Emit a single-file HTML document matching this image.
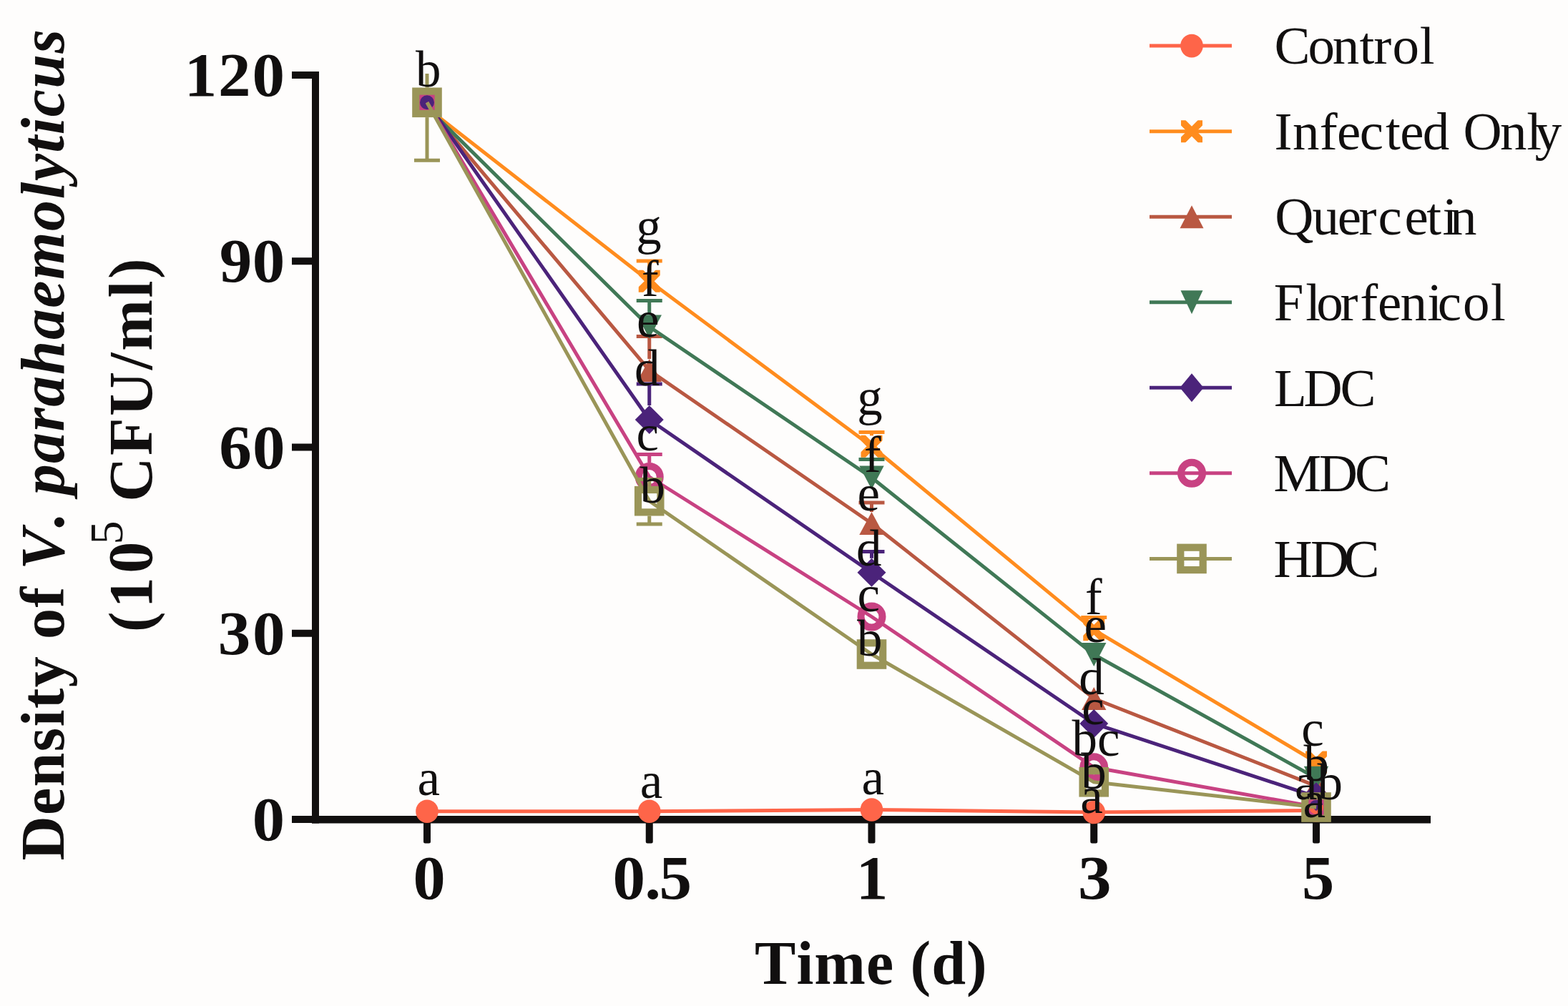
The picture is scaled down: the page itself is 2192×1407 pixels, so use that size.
<!DOCTYPE html>
<html><head><meta charset="utf-8"><title>Density of V. parahaemolyticus over time</title>
<style>
html,body{margin:0;padding:0;background:#fefdfc;overflow:hidden;}
svg{display:block;}
text{font-family:"Liberation Serif","Times New Roman",serif;fill:#110f0f;font-kerning:none;}
</style></head><body>
<svg width="2192" height="1407" viewBox="0 0 2192 1407">
<rect width="2192" height="1407" fill="#fefdfc"/>

<g transform="translate(89,1203.5) rotate(-90)"><text x="0" y="0" font-size="86" font-weight="bold" textLength="1162.5" lengthAdjust="spacing">Density of <tspan font-style="italic">V. parahaemolyticus</tspan></text></g>
<g transform="translate(212,884) rotate(-90)"><text x="0" y="0" font-size="86" font-weight="bold" letter-spacing="2.6">(<tspan dx="2.5">1</tspan><tspan dx="3" font-size="88">0</tspan><tspan font-size="66" font-weight="normal" dx="-6.5" dy="-41.5">5</tspan><tspan dy="41.5"> CFU/ml)</tspan></text></g>
<g fill="#110f0f">
<rect x="436" y="100" width="10" height="1051.5"/>
<rect x="408" y="1141.00" width="33" height="10"/>
<rect x="408" y="880.75" width="33" height="10"/>
<rect x="408" y="620.50" width="33" height="10"/>
<rect x="408" y="360.25" width="33" height="10"/>
<rect x="408" y="100.00" width="33" height="10"/>
<rect x="436" y="1141" width="1564" height="10.5"/>
<rect x="592.00" y="1146" width="10" height="33.5" rx="2.5"/>
<rect x="902.75" y="1146" width="10" height="33.5" rx="2.5"/>
<rect x="1213.50" y="1146" width="10" height="33.5" rx="2.5"/>
<rect x="1524.25" y="1146" width="10" height="33.5" rx="2.5"/>
<rect x="1835.00" y="1146" width="10" height="33.5" rx="2.5"/>
</g>
<text transform="scale(1.06,1)" x="243.2 287.8 332.5" y="134.20" font-size="86" font-weight="bold">120</text>
<text transform="scale(1.06,1)" x="289.4 332.7" y="394.20" font-size="86" font-weight="bold">90</text>
<text transform="scale(1.06,1)" x="288.9 333.0" y="655.00" font-size="86" font-weight="bold">60</text>
<text transform="scale(1.06,1)" x="287.4 333.0" y="915.00" font-size="86" font-weight="bold">30</text>
<text transform="translate(375.40,0) scale(1.0535,1) translate(-375.40,0)" x="353.90" y="1175.00" font-size="86" font-weight="bold">0</text>
<text transform="translate(600.15,0) scale(1.0508,1) translate(-600.15,0)" x="578.65" y="1256.60" font-size="86" font-weight="bold">0</text>
<text transform="translate(1220.45,0) scale(1.0391,1) translate(-1220.45,0)" x="1197.73" y="1256.60" font-size="86" font-weight="bold">1</text>
<text transform="translate(1530.55,0) scale(1.0834,1) translate(-1530.55,0)" x="1508.90" y="1256.60" font-size="86" font-weight="bold">3</text>
<text transform="translate(1842.75,0) scale(1.0520,1) translate(-1842.75,0)" x="1821.10" y="1256.60" font-size="86" font-weight="bold">5</text>
<text transform="scale(1.06,1)" x="808.0 850.2 869.3" y="1256.60" font-size="86" font-weight="bold">0.5</text>
<text x="1055.06" y="1375.60" font-size="86" font-weight="bold" textLength="324.62" lengthAdjust="spacing">Time (d)</text>
<polyline points="597.00,1134.80 907.75,1134.80 1218.50,1132.50 1529.25,1136.00 1840.00,1133.50" fill="none" stroke="#fe6549" stroke-width="5.0" stroke-linejoin="round"/>
<ellipse cx="597.00" cy="1134.80" rx="15.8" ry="16.3" fill="#fe6549"/>
<ellipse cx="907.75" cy="1134.80" rx="15.8" ry="16.3" fill="#fe6549"/>
<ellipse cx="1218.50" cy="1132.50" rx="15.8" ry="16.3" fill="#fe6549"/>
<ellipse cx="1529.25" cy="1136.00" rx="15.8" ry="16.3" fill="#fe6549"/>
<ellipse cx="1840.00" cy="1133.50" rx="15.8" ry="16.3" fill="#fe6549"/>
<polyline points="597.00,151.00 907.75,393.30 1218.50,624.30 1529.25,880.80 1840.00,1066.00" fill="none" stroke="#ff8c1e" stroke-width="5.0" stroke-linejoin="round"/>
<path d="M907.75,365.00L907.75,378.30" stroke="#ff8c1e" stroke-width="5.0"/>
<path d="M889.75,365.00L925.75,365.00" stroke="#ff8c1e" stroke-width="5.0"/>
<path d="M1218.50,604.40L1218.50,609.30" stroke="#ff8c1e" stroke-width="5.0"/>
<path d="M1200.50,604.40L1236.50,604.40" stroke="#ff8c1e" stroke-width="5.0"/>
<path d="M1529.25,863.40L1529.25,865.80" stroke="#ff8c1e" stroke-width="5.0"/>
<path d="M1511.25,863.40L1547.25,863.40" stroke="#ff8c1e" stroke-width="5.0"/>
<svg x="582.00" y="127.80" width="30" height="31" overflow="hidden"><path d="M0,0.5L30,30.5M30,0.5L0,30.5" stroke="#ff8c1e" stroke-width="9.8" stroke-linecap="square" fill="none"/></svg>
<svg x="892.75" y="377.80" width="30" height="31" overflow="hidden"><path d="M0,0.5L30,30.5M30,0.5L0,30.5" stroke="#ff8c1e" stroke-width="9.8" stroke-linecap="square" fill="none"/></svg>
<svg x="1203.50" y="608.80" width="30" height="31" overflow="hidden"><path d="M0,0.5L30,30.5M30,0.5L0,30.5" stroke="#ff8c1e" stroke-width="9.8" stroke-linecap="square" fill="none"/></svg>
<svg x="1514.25" y="865.30" width="30" height="31" overflow="hidden"><path d="M0,0.5L30,30.5M30,0.5L0,30.5" stroke="#ff8c1e" stroke-width="9.8" stroke-linecap="square" fill="none"/></svg>
<svg x="1825.00" y="1050.50" width="30" height="31" overflow="hidden"><path d="M0,0.5L30,30.5M30,0.5L0,30.5" stroke="#ff8c1e" stroke-width="9.8" stroke-linecap="square" fill="none"/></svg>
<polyline points="597.00,149.00 907.75,518.00 1218.50,732.00 1529.25,977.00 1840.00,1099.30" fill="none" stroke="#b95842" stroke-width="5.0" stroke-linejoin="round"/>
<path d="M907.75,470.60L907.75,502.00" stroke="#b95842" stroke-width="5.0"/>
<path d="M889.75,470.60L925.75,470.60" stroke="#b95842" stroke-width="5.0"/>
<path d="M1218.50,703.00L1218.50,716.00" stroke="#b95842" stroke-width="5.0"/>
<path d="M1200.50,703.00L1236.50,703.00" stroke="#b95842" stroke-width="5.0"/>
<path d="M597.00,127.30L614.20,159.30L579.80,159.30Z" fill="#b95842"/>
<path d="M907.75,502.00L924.95,534.00L890.55,534.00Z" fill="#b95842"/>
<path d="M1218.50,716.00L1235.70,748.00L1201.30,748.00Z" fill="#b95842"/>
<path d="M1529.25,961.00L1546.45,993.00L1512.05,993.00Z" fill="#b95842"/>
<path d="M1840.00,1083.30L1857.20,1115.30L1822.80,1115.30Z" fill="#b95842"/>
<polyline points="597.00,150.00 907.75,457.00 1218.50,668.00 1529.25,915.50 1840.00,1088.20" fill="none" stroke="#407856" stroke-width="5.0" stroke-linejoin="round"/>
<path d="M907.75,420.60L907.75,440.50" stroke="#407856" stroke-width="5.0"/>
<path d="M889.75,420.60L925.75,420.60" stroke="#407856" stroke-width="5.0"/>
<path d="M1218.50,642.60L1218.50,651.50" stroke="#407856" stroke-width="5.0"/>
<path d="M1200.50,642.60L1236.50,642.60" stroke="#407856" stroke-width="5.0"/>
<path d="M579.80,126.80L614.20,126.80L597.00,159.80Z" fill="#407856"/>
<path d="M890.55,440.50L924.95,440.50L907.75,473.50Z" fill="#407856"/>
<path d="M1201.30,651.50L1235.70,651.50L1218.50,684.50Z" fill="#407856"/>
<path d="M1512.05,899.00L1546.45,899.00L1529.25,932.00Z" fill="#407856"/>
<path d="M1822.80,1071.70L1857.20,1071.70L1840.00,1104.70Z" fill="#407856"/>
<polyline points="597.00,143.30 907.75,587.00 1218.50,800.80 1529.25,1012.00 1840.00,1114.30" fill="none" stroke="#4b237a" stroke-width="5.0" stroke-linejoin="round"/>
<path d="M907.75,537.00L907.75,567.00" stroke="#4b237a" stroke-width="5.0"/>
<path d="M889.75,537.00L925.75,537.00" stroke="#4b237a" stroke-width="5.0"/>
<path d="M1218.50,771.40L1218.50,780.80" stroke="#4b237a" stroke-width="5.0"/>
<path d="M1200.50,771.40L1236.50,771.40" stroke="#4b237a" stroke-width="5.0"/>
<path d="M597.00,123.30L617.00,143.30L597.00,163.30L577.00,143.30Z" fill="#4b237a"/>
<path d="M907.75,567.00L927.75,587.00L907.75,607.00L887.75,587.00Z" fill="#4b237a"/>
<path d="M1218.50,780.80L1238.50,800.80L1218.50,820.80L1198.50,800.80Z" fill="#4b237a"/>
<path d="M1529.25,992.00L1549.25,1012.00L1529.25,1032.00L1509.25,1012.00Z" fill="#4b237a"/>
<path d="M1840.00,1094.30L1860.00,1114.30L1840.00,1134.30L1820.00,1114.30Z" fill="#4b237a"/>
<polyline points="597.00,143.30 907.75,667.00 1218.50,862.50 1529.25,1073.30 1840.00,1128.70" fill="none" stroke="#c84282" stroke-width="5.0" stroke-linejoin="round"/>
<path d="M907.75,635.50L907.75,647.00" stroke="#c84282" stroke-width="5.0"/>
<path d="M889.75,635.50L925.75,635.50" stroke="#c84282" stroke-width="5.0"/>
<circle cx="597.00" cy="143.30" r="15" fill="none" stroke="#c84282" stroke-width="10"/>
<circle cx="907.75" cy="667.00" r="15" fill="none" stroke="#c84282" stroke-width="10"/>
<circle cx="1218.50" cy="862.50" r="15" fill="none" stroke="#c84282" stroke-width="10"/>
<circle cx="1529.25" cy="1073.30" r="15" fill="none" stroke="#c84282" stroke-width="10"/>
<circle cx="1840.00" cy="1128.70" r="15" fill="none" stroke="#c84282" stroke-width="10"/>
<polyline points="597.00,143.30 907.75,700.70 1218.50,915.00 1529.25,1093.80 1840.00,1129.00" fill="none" stroke="#9a9558" stroke-width="5.0" stroke-linejoin="round"/>
<path d="M597.00,103.00L597.00,122.50" stroke="#9a9558" stroke-width="5.0"/>
<path d="M597.00,164.10L597.00,224.30" stroke="#9a9558" stroke-width="5.0"/>
<path d="M579.00,224.30L615.00,224.30" stroke="#9a9558" stroke-width="5.0"/>
<path d="M907.75,670.50L907.75,679.90" stroke="#9a9558" stroke-width="5.0"/>
<path d="M907.75,721.50L907.75,733.00" stroke="#9a9558" stroke-width="5.0"/>
<path d="M889.75,670.50L925.75,670.50" stroke="#9a9558" stroke-width="5.0"/>
<path d="M889.75,733.00L925.75,733.00" stroke="#9a9558" stroke-width="5.0"/>
<rect x="581.30" y="127.60" width="31.4" height="31.4" fill="none" stroke="#9a9558" stroke-width="10.2"/>
<rect x="892.05" y="685.00" width="31.4" height="31.4" fill="none" stroke="#9a9558" stroke-width="10.2"/>
<rect x="1202.80" y="899.30" width="31.4" height="31.4" fill="none" stroke="#9a9558" stroke-width="10.2"/>
<rect x="1513.55" y="1078.10" width="31.4" height="31.4" fill="none" stroke="#9a9558" stroke-width="10.2"/>
<rect x="1824.30" y="1113.30" width="31.4" height="31.4" fill="none" stroke="#9a9558" stroke-width="10.2"/>
<text x="580.90" y="121.30" font-size="71">b</text>
<text x="889.30" y="341.00" font-size="71">g</text>
<text x="897.09" y="414.00" font-size="71">f</text>
<text x="890.09" y="470.50" font-size="71">e</text>
<text x="887.00" y="538.50" font-size="71">d</text>
<text x="889.48" y="630.00" font-size="71">c</text>
<text x="894.60" y="703.00" font-size="71">b</text>
<text x="1198.20" y="579.50" font-size="71">g</text>
<text x="1208.09" y="659.50" font-size="71">f</text>
<text x="1198.49" y="714.00" font-size="71">e</text>
<text x="1197.00" y="790.50" font-size="71">d</text>
<text x="1198.38" y="855.00" font-size="71">c</text>
<text x="1198.00" y="917.00" font-size="71">b</text>
<text x="1516.89" y="858.50" font-size="71">f</text>
<text x="1515.39" y="898.00" font-size="71">e</text>
<text x="1508.20" y="970.50" font-size="71">d</text>
<text x="1512.28" y="1012.50" font-size="71">c</text>
<text x="1498.39" y="1057.00" font-size="71">bc</text>
<text x="1511.20" y="1102.50" font-size="71">b</text>
<text x="1510.28" y="1136.50" font-size="71">a</text>
<text x="1819.28" y="1042.50" font-size="71">c</text>
<text x="1822.50" y="1092.00" font-size="71">b</text>
<text x="1810.10" y="1118.00" font-size="71">ab</text>
<text x="1821.48" y="1142.50" font-size="71">a</text>
<text x="583.58" y="1111.50" font-size="71">a</text>
<text x="894.78" y="1116.00" font-size="71">a</text>
<text x="1204.58" y="1111.00" font-size="71">a</text>
<path d="M1607,64.10L1722,64.10" stroke="#fe6549" stroke-width="5"/>
<ellipse cx="1666.00" cy="64.10" rx="15.8" ry="16.3" fill="#fe6549"/>
<text x="1781.6 1828.5 1862.8 1900.5 1920.2 1946.6 1984.7" y="89.30" font-size="75">Control</text>
<path d="M1607,183.65L1722,183.65" stroke="#ff8c1e" stroke-width="5"/>
<svg x="1651.00" y="168.15" width="30" height="31" overflow="hidden"><path d="M0,0.5L30,30.5M30,0.5L0,30.5" stroke="#ff8c1e" stroke-width="9.8" stroke-linecap="square" fill="none"/></svg>
<text x="1781.6 1807.0 1844.7 1869.1 1900.7 1936.9 1957.2 1988.8 2026.3 2045.4 2097.1 2134.2 2145.8" y="208.85" font-size="75">Infected Only</text>
<path d="M1607,303.20L1722,303.20" stroke="#b95842" stroke-width="5"/>
<path d="M1666.00,287.20L1682.50,319.20L1649.50,319.20Z" fill="#b95842"/>
<text x="1782.2 1834.6 1869.7 1899.5 1926.6 1963.6 1994.3 2016.5 2027.0" y="328.40" font-size="75">Quercetin</text>
<path d="M1607,422.75L1722,422.75" stroke="#407856" stroke-width="5"/>
<path d="M1650.50,406.25L1681.50,406.25L1666.00,439.25Z" fill="#407856"/>
<text x="1780.8 1825.2 1840.3 1873.4 1901.2 1926.1 1957.5 1995.2 2009.7 2045.1 2084.1" y="447.95" font-size="75">Florfenicol</text>
<path d="M1607,542.30L1722,542.30" stroke="#4b237a" stroke-width="5"/>
<path d="M1666.00,522.30L1682.60,542.30L1666.00,562.30L1649.40,542.30Z" fill="#4b237a"/>
<text x="1780.9 1822.4 1873.5" y="567.50" font-size="75">LDC</text>
<path d="M1607,661.85L1722,661.85" stroke="#c84282" stroke-width="5"/>
<circle cx="1666.00" cy="661.85" r="15" fill="none" stroke="#c84282" stroke-width="10"/>
<text x="1780.5 1843.7 1894.0" y="687.05" font-size="75">MDC</text>
<path d="M1607,781.40L1722,781.40" stroke="#9a9558" stroke-width="5"/>
<rect x="1650.30" y="765.70" width="31.4" height="31.4" fill="none" stroke="#9a9558" stroke-width="10.2"/>
<text x="1780.5 1832.1 1878.5" y="806.60" font-size="75">HDC</text>
</svg></body></html>
